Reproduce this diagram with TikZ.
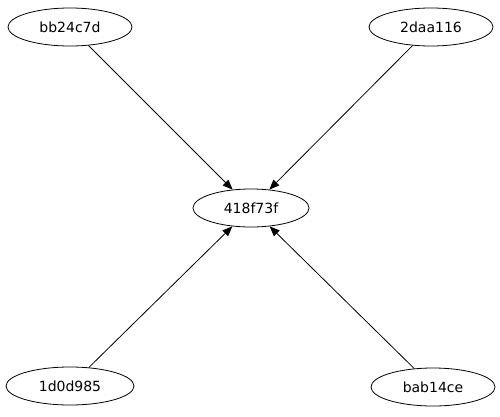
\documentclass[tikz,border=0pt]{standalone}
\usepackage{fontspec}
\setmainfont{DejaVu Sans}
\usetikzlibrary{shapes.geometric,arrows.meta}
\begin{document}
\begin{tikzpicture}[x=1pt,y=1pt,
  nd/.style={ellipse,draw,line width=0.8pt,minimum width=124pt,minimum height=38pt,inner sep=0pt,font=\fontsize{14}{16}\selectfont},
  ed/.style={line width=0.8pt,-{Triangle[length=10pt,width=8pt]}}]
\useasboundingbox (0,0) rectangle (500,416);
\node[nd] (a) at (70,389) {bb24c7d};
\node[nd] (b) at (431,389) {2daa116};
\node[nd,minimum width=116pt] (c) at (251,208) {418f73f};
\node[nd,minimum width=128pt] (d) at (70,30) {1d0d985};
\node[nd] (e) at (433,29) {bab14ce};
\draw[ed] (a) -- (c);
\draw[ed] (b) -- (c);
\draw[ed] (d) -- (c);
\draw[ed] (e) -- (c);
\end{tikzpicture}
\end{document}
